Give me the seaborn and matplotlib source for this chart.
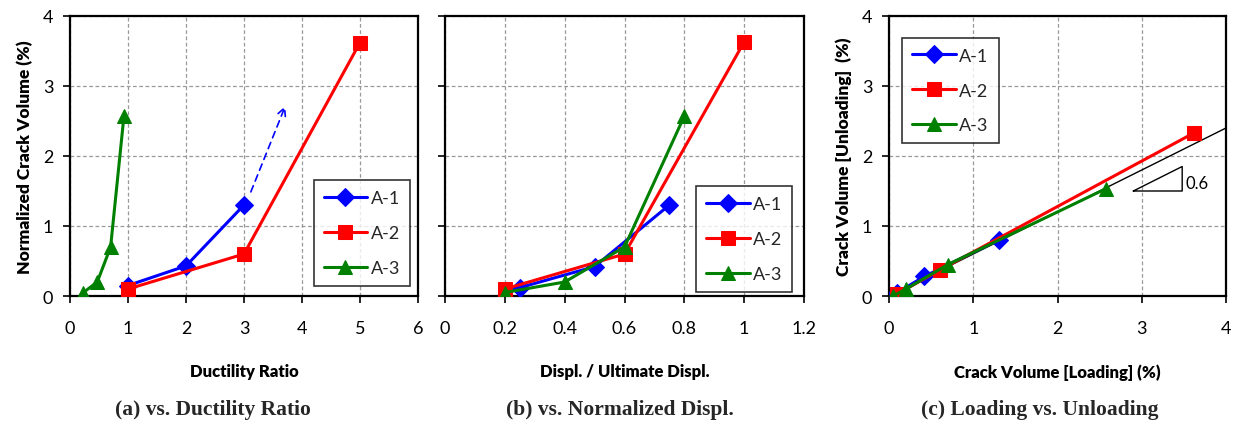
import matplotlib
matplotlib.use("Agg")
import matplotlib.pyplot as plt
import seaborn as sns
import pandas as pd

# ---- data ----
a_x_A1 = [1, 2, 3]
a_y_A1 = [0.15, 0.43, 1.30]
a_x_A2 = [1, 3, 5]
a_y_A2 = [0.10, 0.60, 3.62]
a_x_A3 = [0.23, 0.47, 0.70, 0.93]
a_y_A3 = [0.05, 0.20, 0.70, 2.57]

b_x_A1 = [0.25, 0.50, 0.75]
b_y_A1 = [0.12, 0.42, 1.30]
b_x_A2 = [0.20, 0.60, 1.00]
b_y_A2 = [0.10, 0.60, 3.63]
b_x_A3 = [0.20, 0.40, 0.60, 0.80]
b_y_A3 = [0.05, 0.20, 0.70, 2.57]

c_x_A1 = [0.10, 0.42, 1.30]
c_y_A1 = [0.05, 0.28, 0.80]
c_x_A2 = [0.10, 0.60, 3.62]
c_y_A2 = [0.03, 0.37, 2.33]
c_x_A3 = [0.05, 0.20, 0.70, 2.57]
c_y_A3 = [0.00, 0.10, 0.45, 1.53]

series_names = ["A-1", "A-2", "A-3"]
colors = {"A-1": "#0000FF", "A-2": "#FF0000", "A-3": "#008000"}
markers = {"A-1": "D", "A-2": "s", "A-3": "^"}

trend_x = [0, 4]
trend_y = [0, 2.4]

x_labels = ["Ductility Ratio", "Displ. / Ultimate Displ.", "Crack Volume [Loading] (%)"]
y_labels = ["Normalized Crack Volume (%)", None, "Crack Volume [Unloading]  (%)"]
captions = ["(a) vs. Ductility Ratio", "(b) vs. Normalized Displ.", "(c) Loading vs. Unloading"]
a_xticks = [0, 1, 2, 3, 4, 5, 6]
b_xticks = [0, 0.2, 0.4, 0.6, 0.8, 1.0, 1.2]
b_xticklabels = ["0", "0.2", "0.4", "0.6", "0.8", "1", "1.2"]
c_xticks = [0, 1, 2, 3, 4]
yticks = [0, 1, 2, 3, 4]

sns.set_theme(style="white")
plt.rcParams["font.family"] = ["Lato", "DejaVu Sans"]

W, H = 1236, 427
fig = plt.figure(figsize=(W / 100, H / 100), dpi=100)

def frac(l, t, r, b):
    return [l / W, 1 - b / H, (r - l) / W, (b - t) / H]

ax_a = fig.add_axes(frac(70, 17, 418, 297))
ax_b = fig.add_axes(frac(445, 17, 804, 297))
ax_c = fig.add_axes(frac(889, 17, 1226, 297))

def make_df(xs, ys):
    rows = []
    for name, x, y in zip(series_names, xs, ys):
        for xi, yi in zip(x, y):
            rows.append({"x": xi, "y": yi, "Series": name})
    return pd.DataFrame(rows)

dfs = [
    make_df([a_x_A1, a_x_A2, a_x_A3], [a_y_A1, a_y_A2, a_y_A3]),
    make_df([b_x_A1, b_x_A2, b_x_A3], [b_y_A1, b_y_A2, b_y_A3]),
    make_df([c_x_A1, c_x_A2, c_x_A3], [c_y_A1, c_y_A2, c_y_A3]),
]
axes = [ax_a, ax_b, ax_c]
xlims = [(0, 6), (0, 1.2), (0, 4)]

for ax, df, xl, lab, ylab, xt in zip(axes, dfs, xlims, x_labels, y_labels,
                                     [a_xticks, b_xticks, c_xticks]):
    if ax is ax_c:
        sns.lineplot(x=trend_x, y=trend_y, ax=ax, color="black", linewidth=1.0, zorder=1)
    for name in series_names:
        d = df[df["Series"] == name]
        sns.lineplot(data=d, x="x", y="y", ax=ax, color=colors[name], marker=markers[name],
                     markersize=9.5 if name != "A-1" else 9, markeredgecolor=colors[name],
                     linewidth=2.2, sort=False, label=name, zorder=3)
    ax.set_xlim(*xl)
    ax.set_ylim(0, 4)
    ax.set_xticks(xt)
    ax.set_yticks(yticks)
    ax.grid(True, color="#999999", linestyle=(0, (3, 2)), linewidth=0.9)
    for s in ax.spines.values():
        s.set_color("black")
        s.set_linewidth(1.6)
    ax.tick_params(axis="both", which="both", direction="out", length=5, width=1.2,
                   color="black", labelsize=13, bottom=True, left=True, labelcolor="black")
    ax.tick_params(axis="x", pad=12)
    ax.tick_params(axis="y", pad=7)
    ax.set_xlabel(lab, fontsize=12, fontweight="heavy", labelpad=20, color="black")
    if ylab:
        ax.set_ylabel(ylab, fontsize=12.5, fontweight="heavy", labelpad=7, color="black")
    else:
        ax.set_ylabel("")
        ax.set_yticklabels([])

ax_b.set_xticklabels(b_xticklabels)

legend_locs = [(0.70, 0.035), (0.70, 0.015), (0.04, 0.545)]
for ax, loc in zip(axes, legend_locs):
    leg = ax.legend(loc="lower left", bbox_to_anchor=loc, fontsize=13, frameon=True,
                    fancybox=False, edgecolor="black", handlelength=2.4, handletextpad=0.2,
                    labelspacing=1.05, borderpad=0.55, borderaxespad=0)
    leg.get_frame().set_linewidth(1.2)
    leg.get_frame().set_facecolor("white")

# dashed arrow in (a)
ax_a.annotate("", xy=(3.73, 2.75), xytext=(3.1, 1.45),
              arrowprops=dict(arrowstyle="->", color="#0000FF", linestyle=(0, (4, 3)),
                              linewidth=1.2, mutation_scale=14))

# slope triangle in (c)
tri_x = [2.90, 3.48, 3.48, 2.90]
tri_y = [1.50, 1.50, 1.85, 1.50]
ax_c.plot(tri_x, tri_y, color="black", linewidth=1.0)
ax_c.text(3.52, 1.62, "0.6", fontsize=12, va="center", ha="left", color="black")

cap_x = [213, 620, 1040]
for cx, cap in zip(cap_x, captions):
    fig.text(cx / W, 1 - 410 / H, cap, fontsize=15.5, fontweight="bold",
             family=["Liberation Serif", "DejaVu Serif"], ha="center", va="center")

fig.savefig("out.png", dpi=100)
